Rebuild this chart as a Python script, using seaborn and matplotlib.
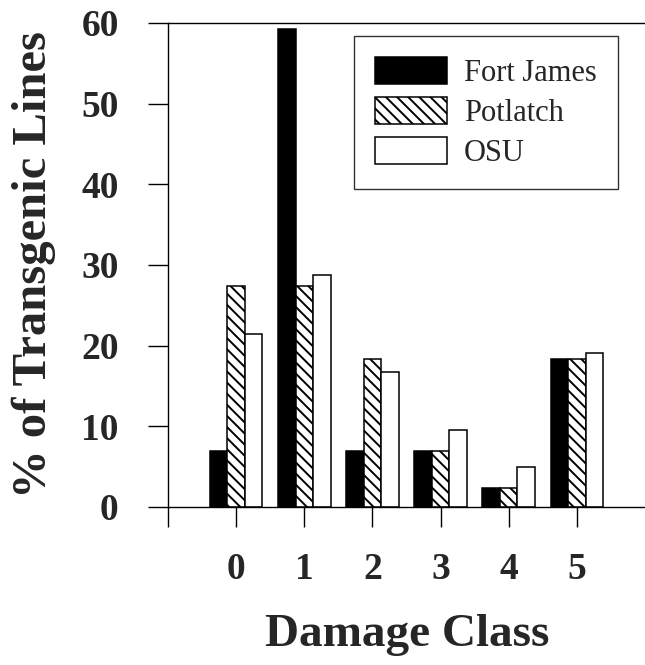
import matplotlib
matplotlib.use("Agg")
import matplotlib.pyplot as plt
import pandas as pd
import seaborn as sns

# Data
classes = ["0", "1", "2", "3", "4", "5"]
fort_james = [6.9, 59.2, 6.9, 6.9, 2.4, 18.4]
potlatch = [27.4, 27.4, 18.3, 6.9, 2.4, 18.4]
osu = [21.4, 28.7, 16.7, 9.5, 4.9, 19.1]
sites = ["Fort James", "Potlatch", "OSU"]

df = pd.DataFrame({
    "cls": classes * 3,
    "pct": fort_james + potlatch + osu,
    "site": [s for s in sites for _ in classes],
})

sns.set_style("white")
plt.rcParams["font.family"] = ["Liberation Serif", "DejaVu Serif"]
plt.rcParams["hatch.linewidth"] = 1.4

fig = plt.figure(figsize=(6.45, 6.65), dpi=100)
ax = fig.add_axes([168 / 645, 1 - 507 / 665, 1 - 168 / 645, (507 - 23) / 665])

sns.barplot(data=df, x="cls", y="pct", hue="site", order=classes, hue_order=sites,
            palette=["black", "white", "white"], saturation=1, width=0.77,
            edgecolor="black", linewidth=1.1, legend=False, ax=ax)

# hatch for Potlatch
for bar in ax.containers[1]:
    bar.set_hatch("\\\\\\")
    bar.set_edgecolor("black")

ax.set_xlim(-1, 6)
ax.set_ylim(0, 60)
ax.set_yticks(range(0, 61, 10))
ax.set_xticks(range(-1, 6))
ax.set_xticklabels([""] + classes)

for side in ["left", "top", "bottom"]:
    ax.spines[side].set_visible(True)
    ax.spines[side].set_color("black")
    ax.spines[side].set_linewidth(1.0)
ax.spines["right"].set_visible(False)

ax.tick_params(axis="both", direction="out", length=14.5, width=1.0, color="black",
               labelsize=27, bottom=True, left=True)
ax.tick_params(axis="y", pad=21)
ax.tick_params(axis="x", pad=18)
for lab in ax.get_xticklabels() + ax.get_yticklabels():
    lab.set_fontweight("bold")

ax.set_xlabel("Damage Class", fontsize=34, fontweight="bold")
ax.set_ylabel("% of Transgenic Lines", fontsize=35, fontweight="bold")
ax.xaxis.set_label_coords(0.501, -0.222)
ax.yaxis.set_label_coords(-0.235, 0.5)

leg = ax.legend(handles=ax.containers, labels=sites, loc="upper right",
                bbox_to_anchor=(0.943, 0.973), borderaxespad=0, fancybox=False,
                frameon=True, fontsize=22, handlelength=2.35, handleheight=0.95,
                handletextpad=0.55, labelspacing=0.3, borderpad=0.7)
leg.get_frame().set_edgecolor("black")
leg.get_frame().set_linewidth(1.0)

fig.savefig("out.png", dpi=100)
